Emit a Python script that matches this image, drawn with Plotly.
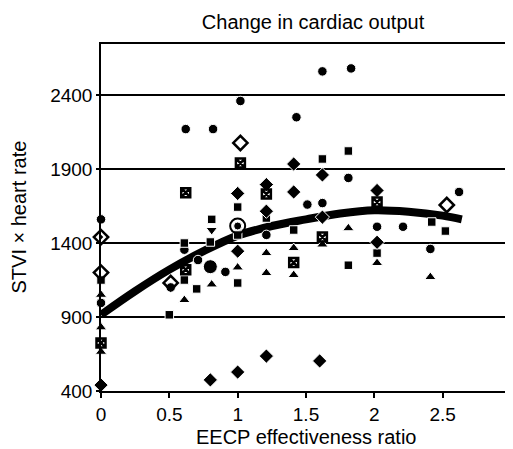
import plotly.graph_objects as go

# values
circle_x = [0, 0, 0.62, 0.61, 0.51, 0.82, 1.02, 1.43, 1.62, 1.83, 1.81, 1.51, 1.62, 1.21, 0.91, 0.71, 2.02, 2.21, 2.62, 2.41]
circle_y = [1560, 995, 2170, 1355, 1100, 2170, 2360, 2250, 2560, 2580, 1840, 1660, 1670, 1455, 1205, 1285, 1510, 1510, 1745, 1360]

big_circle_x = [0.80]
big_circle_y = [1240]

square_x = [0, 0.50, 0.61, 0.61, 0.70, 0.81, 0.80, 1.0, 1.0, 1.0, 1.21, 1.41, 1.62, 1.81, 1.81, 2.02, 2.42, 2.52]
square_y = [1150, 915, 1400, 1150, 1090, 1560, 1407, 1643, 1454, 1130, 1569, 1488, 1968, 2022, 1250, 1332, 1542, 1481]

squarex_x = [0.62, 1.02, 1.21, 0.62, 2.02, 1.62, 0, 1.41]
squarex_y = [1740, 1940, 1731, 1220, 1677, 1440, 725, 1268]

diamond_x = [0, 0.80, 1.0, 1.21, 1.60, 1.0, 1.0, 1.21, 1.21, 1.41, 1.41, 1.62, 1.62, 2.02, 2.02]
diamond_y = [440, 475, 528, 636, 603, 1735, 1345, 1795, 1615, 1934, 1745, 1860, 1575, 1755, 1405]

tri_down_x = [0.81]
tri_down_y = [1488]

triangle_x = [0, 0, 0, 0.61, 0.81, 1.0, 1.21, 1.21, 1.41, 1.41, 1.62, 1.81, 2.02, 2.41]
triangle_y = [1050, 830, 665, 1015, 1120, 1235, 1332, 1197, 1366, 1184, 1390, 1500, 1265, 1170]

open_diamond_x = [0, 0.51, 1.02, 2.53]
open_diamond_y = [1200, 1130, 2076, 1657]

dot_diamond_x = [0]
dot_diamond_y = [1440]

bullseye_x = [1.0]
bullseye_y = [1515]

# fitted curve, read at a few x positions
curve_x = [0, 0.25, 0.5, 0.75, 1.0, 1.25, 1.5, 1.75, 2.0, 2.25, 2.5, 2.64]
curve_y = [915, 1075, 1220, 1345, 1450, 1515, 1560, 1600, 1622, 1612, 1585, 1560]

x_ticks = [0, 0.5, 1, 1.5, 2, 2.5, 3]
x_ticktext = ["0", "0.5", "1", "1.5", "2", "2.5", "3"]
y_ticks = [400, 900, 1400, 1900, 2400]

FONT = "Liberation Sans, Arial, Helvetica, sans-serif"

fig = go.Figure()

fig.add_trace(go.Scatter(x=curve_x, y=curve_y, mode="lines", line=dict(color="black", width=8, shape="spline"),
                         hoverinfo="skip", cliponaxis=False))


def add_markers(xs, ys, symbol, size, color="black", line_color="white", line_width=1):
    fig.add_trace(go.Scatter(x=xs, y=ys, mode="markers", cliponaxis=False,
                             marker=dict(symbol=symbol, size=size, color=color,
                                         line=dict(color=line_color, width=line_width))))


add_markers(circle_x, circle_y, "circle", 9.5)
add_markers(big_circle_x, big_circle_y, "circle", 14)
add_markers(square_x, square_y, "square", 8.5)
add_markers(diamond_x, diamond_y, "diamond", 11)
add_markers(triangle_x, triangle_y, "triangle-up", 10)
add_markers(tri_down_x, tri_down_y, "triangle-down", 10)
add_markers(squarex_x, squarex_y, "square-x-open", 9, color="black", line_color="black", line_width=2.5)
add_markers(open_diamond_x, open_diamond_y, "diamond-open", 11, color="black", line_color="black", line_width=2.5)
add_markers(dot_diamond_x, dot_diamond_y, "diamond-open-dot", 11, color="black", line_color="black", line_width=2.5)
# bullseye: ring plus filled centre
add_markers(bullseye_x, bullseye_y, "circle-open", 15, color="black", line_color="black", line_width=2)
add_markers(bullseye_x, bullseye_y, "circle", 8)

# the page body adds an 8px margin, so the figure is 8px smaller each way
fig.update_layout(
    width=505, height=441,
    margin=dict(l=93, r=2, t=36, b=58, autoexpand=False),
    paper_bgcolor="white", plot_bgcolor="white",
    showlegend=False,
    font=dict(family=FONT, size=19, color="black"),
    title=dict(text="Change in cardiac output", x=0.604, xanchor="center", y=0.968, yanchor="middle",
               font=dict(family=FONT, size=20, color="black")),
    annotations=[
        dict(text="EECP effectiveness ratio", xref="paper", yref="paper", x=0.5, y=0,
             xanchor="center", yanchor="middle", yshift=-46, showarrow=False,
             font=dict(family=FONT, size=20, color="black")),
        dict(text="STVI × heart rate", xref="paper", yref="paper", x=0, y=0.5,
             xanchor="center", yanchor="middle", xshift=-83, textangle=-90, showarrow=False,
             font=dict(family=FONT, size=20, color="black")),
    ],
)

fig.update_xaxes(range=[0, 3.0], tickvals=x_ticks, ticktext=x_ticktext, automargin=False,
                 ticklabeloverflow="allow",
                 showgrid=False, zeroline=False, showline=True, linecolor="black", linewidth=1.5,
                 mirror=True, ticks="outside", ticklen=5, tickwidth=1.5, tickcolor="black")
fig.update_yaxes(range=[400, 2745], tickvals=y_ticks, automargin=False,
                 showgrid=True, gridcolor="black", gridwidth=1.5, zeroline=False,
                 showline=True, linecolor="black", linewidth=1.5,
                 ticks="outside", ticklen=3, tickwidth=1.5, tickcolor="black")

fig.write_html("out.html")
